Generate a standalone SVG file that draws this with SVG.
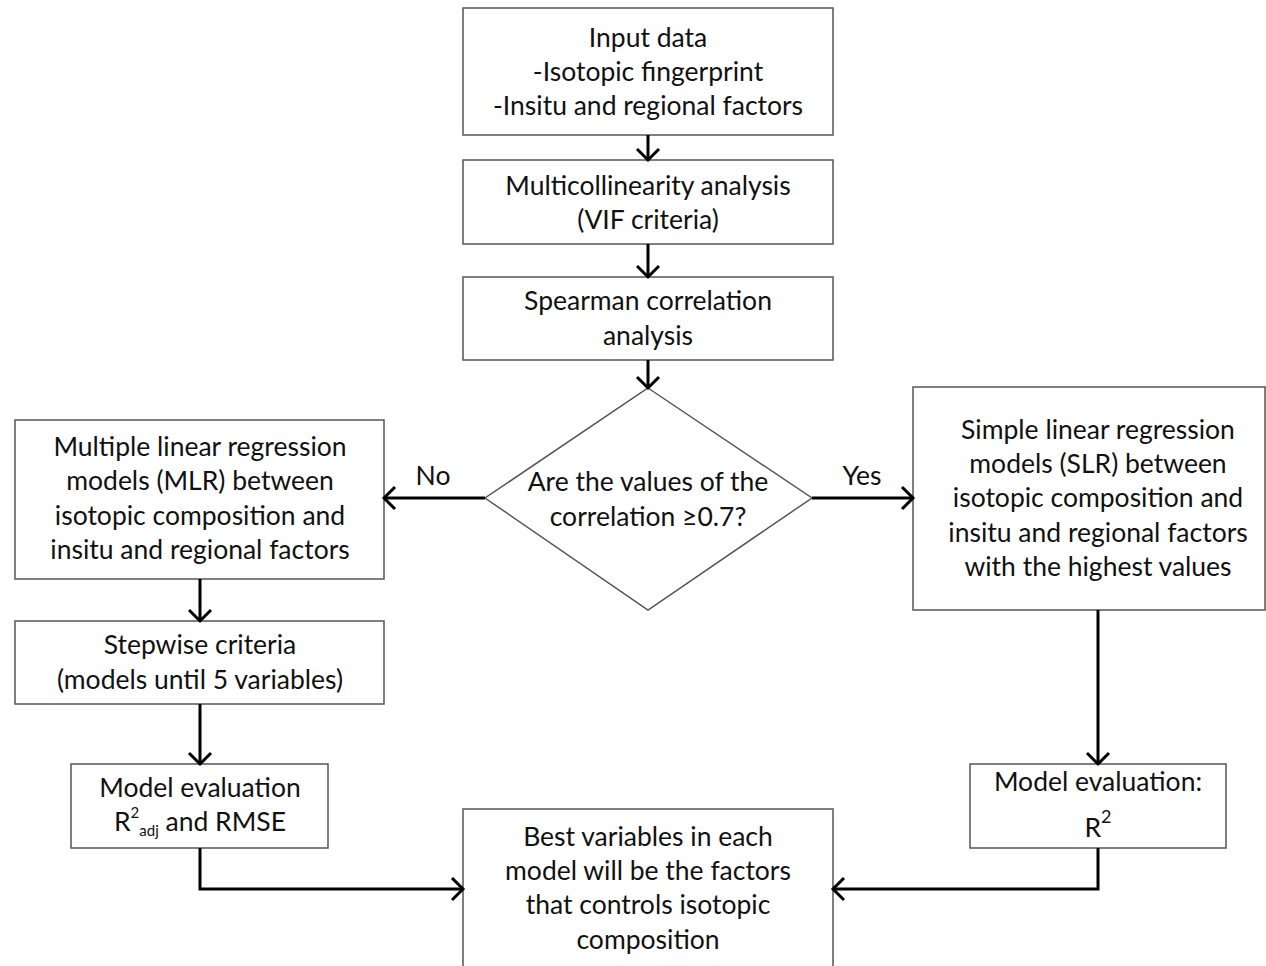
<svg xmlns="http://www.w3.org/2000/svg" width="1266" height="966" viewBox="0 0 1266 966">
<defs>
<marker id="arr" markerUnits="userSpaceOnUse" markerWidth="16" markerHeight="26" refX="13" refY="13" orient="auto" viewBox="0 0 16 26">
<path d="M2,2 L13,13 L2,24" fill="none" stroke="#000" stroke-width="3"/>
</marker>
</defs>
<style>
.box{fill:#fff;stroke:#555;stroke-width:1.5}
.t{font-family:Lato,"Liberation Sans",sans-serif;font-size:26.5px;fill:#111;text-anchor:middle}
.c{fill:none;stroke:#000;stroke-width:3;marker-end:url(#arr)}
.s{font-size:15px}
</style>
<rect width="1266" height="966" fill="#fff"/>
<g id="input">
<rect class="box" x="463" y="8" width="370" height="127"/>
<text class="t" x="648" y="47">Input data</text>
<text class="t" x="648" y="81">-Isotopic fingerprint</text>
<text class="t" x="648" y="115">-Insitu and regional factors</text>
</g>
<g id="multicol">
<rect class="box" x="463" y="160" width="370" height="84"/>
<text class="t" x="648" y="195">Multicollinearity analysis</text>
<text class="t" x="648" y="229">(VIF criteria)</text>
</g>
<g id="spearman">
<rect class="box" x="463" y="277" width="370" height="83"/>
<text class="t" x="648" y="310">Spearman correlation</text>
<text class="t" x="648" y="345">analysis</text>
</g>
<g id="decision">
<polygon class="box" points="648,388 812,498 648,610 485,498"/>
<text class="t" x="648" y="491">Are the values of the</text>
<text class="t" x="648" y="526">correlation ≥0.7?</text>
</g>
<g id="mlr">
<rect class="box" x="15" y="420" width="369" height="159"/>
<text class="t" x="200" y="456">Multiple linear regression</text>
<text class="t" x="200" y="490">models (MLR) between</text>
<text class="t" x="200" y="525">isotopic composition and</text>
<text class="t" x="200" y="559">insitu and regional factors</text>
</g>
<g id="stepwise">
<rect class="box" x="15" y="621" width="369" height="83"/>
<text class="t" x="200" y="654">Stepwise criteria</text>
<text class="t" x="200" y="689">(models until 5 variables)</text>
</g>
<g id="evalmlr">
<rect class="box" x="71" y="764" width="257" height="84"/>
<text class="t" x="200" y="797">Model evaluation</text>
<text class="t" x="200" y="831">R<tspan class="s" dy="-13">2</tspan><tspan class="s" dy="18">adj</tspan><tspan dy="-5"> and RMSE</tspan></text>
</g>
<g id="slr">
<rect class="box" x="913" y="387" width="352" height="223"/>
<text class="t" x="1098" y="439">Simple linear regression</text>
<text class="t" x="1098" y="473">models (SLR) between</text>
<text class="t" x="1098" y="507">isotopic composition and</text>
<text class="t" x="1098" y="542">insitu and regional factors</text>
<text class="t" x="1098" y="576">with the highest values</text>
</g>
<g id="evalslr">
<rect class="box" x="970" y="764" width="256" height="84"/>
<text class="t" x="1098" y="791">Model evaluation:</text>
<text class="t" x="1098" y="837">R<tspan class="s" dy="-14" style="font-size:18px">2</tspan></text>
</g>
<g id="best">
<rect class="box" x="463" y="809" width="370" height="170"/>
<text class="t" x="648" y="846">Best variables in each</text>
<text class="t" x="648" y="880">model will be the factors</text>
<text class="t" x="648" y="914">that controls isotopic</text>
<text class="t" x="648" y="949">composition</text>
</g>
<g id="connectors">
<line class="c" x1="648" y1="135" x2="648" y2="160"/>
<line class="c" x1="648" y1="244" x2="648" y2="277"/>
<line class="c" x1="648" y1="360" x2="648" y2="388"/>
<line class="c" x1="485" y1="498" x2="384" y2="498"/>
<text class="t" x="433" y="485">No</text>
<line class="c" x1="812" y1="498" x2="913" y2="498"/>
<text class="t" x="862" y="485">Yes</text>
<line class="c" x1="200" y1="579" x2="200" y2="621"/>
<line class="c" x1="200" y1="704" x2="200" y2="764"/>
<polyline class="c" points="200,848 200,889 463,889"/>
<line class="c" x1="1098" y1="610" x2="1098" y2="764"/>
<polyline class="c" points="1098,848 1098,889 833,889"/>
</g>
</svg>
